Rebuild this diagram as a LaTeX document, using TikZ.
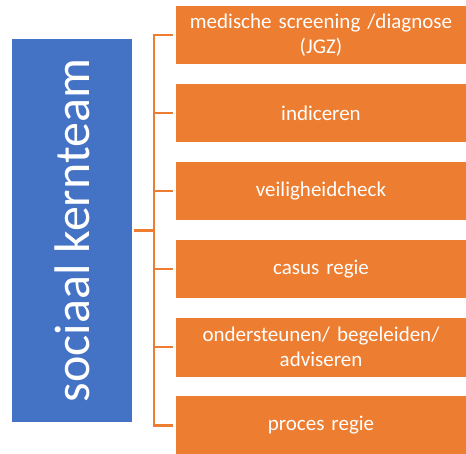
\documentclass[tikz,border=0pt]{standalone}
\usepackage{fontspec}
\setmainfont{Carlito}
\definecolor{kblue}{HTML}{4472C4}
\definecolor{korange}{HTML}{ED7D31}
\tikzset{
  bluebox/.style={fill=kblue, draw=none, minimum width=120pt, minimum height=383pt, inner sep=0pt},
  bluetext/.style={text=white, rotate=90, font=\fontsize{50}{60}\selectfont, inner sep=0pt},
  obox/.style={fill=korange, draw=none, minimum width=290pt, minimum height=58.5pt, inner sep=0pt,
    text=white, align=center, text width=286pt, font=\fontsize{21}{25}\selectfont},
  br/.style={draw=korange, line width=2.5pt}
}
\begin{document}
\begin{tikzpicture}[x=1pt, y=-1pt]
\useasboundingbox (0,0) rectangle (466,454);
\node[bluebox] (blue) at (72,230.5) {};
\node[bluetext] (bt) at (72,230.5) {sociaal kernteam};
\node[obox] (b1) at (321,35.25) {medische screening /diagnose\\(JGZ)};
\node[obox] (b2) at (321,113.25) {indiceren};
\node[obox] (b3) at (321,191.25) {veiligheidcheck};
\node[obox] (b4) at (321,269.25) {casus regie};
\node[obox] (b5) at (321,347.25) {ondersteunen/ begeleiden/\\adviseren};
\node[obox] (b6) at (321,425.25) {proces regie};
\coordinate (spine) at (154,0);
\draw[br] ([xshift=-3pt]b1.west) -- (b1.west -| spine) -- (b6.west -| spine) -- ([xshift=-3pt]b6.west);
\foreach \i in {2,3,4,5} {
  \draw[br] ([xshift=-3pt]b\i.west) -- (b\i.west -| spine);
}
\draw[br] ([xshift=2pt]blue.east) -- (blue.east -| spine);
\end{tikzpicture}
\end{document}
